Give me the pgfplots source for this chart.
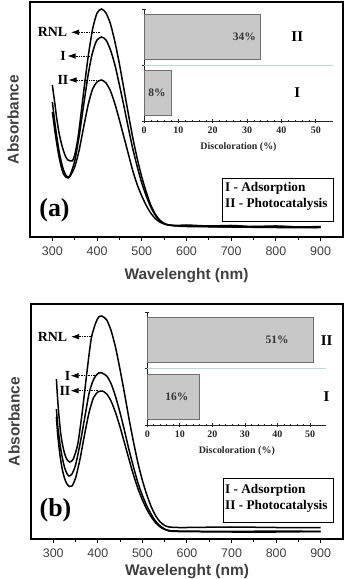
\documentclass[border=0pt]{standalone}
\usepackage{fontspec}
\setmainfont{Liberation Serif}
\newfontfamily\sansf{Liberation Sans}
\usepackage{pgfplots}
\pgfplotsset{compat=1.18}
\usetikzlibrary{arrows.meta}
\definecolor{labgray}{HTML}{404040}
\definecolor{barfill}{HTML}{C8C8C8}
\definecolor{barline}{HTML}{707070}
\definecolor{sepcol}{HTML}{B8DCDC}
\tikzset{
  pct/.style={font=\bfseries\fontsize{11.5}{11.5}\selectfont, text=black!80},
  cat/.style={font=\bfseries\fontsize{15}{15}\selectfont},
  lab/.style={font=\bfseries\fontsize{14}{14}\selectfont},
  arr/.style={densely dotted, line width=0.7bp, -{Latex[length=8bp,width=5.5bp]}},
}
\pgfplotsset{
  mainax/.style={
    scale only axis, width=313bp, height=235bp,
    xmin=250, xmax=950, ymin=0, ymax=235,
    xtick={300,400,...,900}, minor xtick={350,450,...,850},
    ytick=\empty, xtick pos=bottom,
    tick align=outside, major tick length=4bp, minor tick length=3bp,
    axis line style={line width=1.4bp},
    every tick/.style={black, line width=1bp},
    /pgf/number format/assume math mode=true,
    xticklabel style={font=\sansf\fontsize{12.5}{12.5}\selectfont, text=labgray, yshift=-2.5bp},
    xlabel={Wavelenght (nm)},
    ylabel={Absorbance},
    ylabel style={font=\sansf\bfseries\fontsize{15.5}{16}\selectfont, text=labgray,
      at={(axis description cs:-0.0543,0.5)}, anchor=center},
    clip=false,
  },
  curve/.style={black, line width=1.5bp, smooth, tension=0.4},
  inset/.style={
    scale only axis, xmin=0, xmax=55, ymin=0, ymax=2,
    axis x line=bottom, axis y line=left,
    axis line style={-, line width=0.8bp, black!85},
    xtick={0,10,...,50}, minor x tick num=4,
    ytick={0,1,2}, yticklabels={},
    tick align=center, major tick length=4bp, minor tick length=2.5bp,
    every tick/.style={black!85, line width=0.7bp},
    /pgf/number format/assume math mode=true,
    xticklabel style={font=\bfseries\fontsize{10}{10}\selectfont, text=black!85},
    xlabel={Discoloration (\%)},
    xlabel style={font=\bfseries\fontsize{10}{10}\selectfont, text=black!85,
      at={(axis description cs:0.5,-0.232)}, anchor=center},
    clip=false,
  },
  bars/.style={xbar, bar width=0.8, fill=barfill, draw=barline, line width=0.7bp},
}
\begin{document}
\begin{tikzpicture}
\useasboundingbox (0,0) rectangle (346bp,579bp);
% ---------------- panel (a) ----------------
\begin{axis}[mainax, at={(30bp,342bp)}, anchor=south west,
  xlabel style={font=\sansf\bfseries\fontsize{15.5}{16}\selectfont, text=labgray,
      at={(axis description cs:0.5,-0.162)}, anchor=center}]
\addplot[curve] coordinates {(300,152) (303,142) (306,132) (310,118) (315,104) (320,94) (325,86) (330,80) (335,77) (340,76) (345,76) (350,82) (355,93) (360,108) (370,145) (380,180) (390,208) (400,224) (410,228) (420,224) (430,213) (440,195) (450,173) (460,148) (470,123) (480,99) (490,78) (500,60) (510,45) (520,32) (530,23) (540,17) (550,13.5) (560,12) (580,11.5) (600,12) (650,11) (700,11.5) (750,10.5) (800,11) (850,10) (900,10.5)};
\addplot[curve] coordinates {(300,135) (303,124) (306,113) (310,100) (315,86) (320,75) (325,67) (330,62) (335,60) (340,62) (350,76) (360,101) (370,132) (380,162) (388,181) (395,192) (400,197) (410,200) (420,197) (430,187) (440,172) (450,152) (460,131) (470,109) (480,88) (490,70) (500,54) (510,41) (520,30) (530,22) (540,16.5) (550,13.5) (560,12) (580,11) (600,11) (650,10.5) (700,10) (800,10.5) (900,9.5)};
\addplot[curve] coordinates {(300,125) (303,115) (306,105) (310,93) (315,80) (320,70) (325,63) (330,60) (335,59) (340,61) (350,70) (360,87) (370,110) (380,132) (390,148) (400,155) (410,157) (420,154) (430,146) (440,133) (450,117) (460,100) (470,83) (480,66) (490,52) (500,41) (510,31.5) (520,24) (530,18.5) (540,15) (550,13) (560,12) (580,11) (600,10.5) (700,10) (800,9.5) (900,9.5)};
\end{axis}
\begin{axis}[inset, at={(144bp,458bp)}, anchor=south west, width=189bp, height=112bp]
\addplot[sepcol, line width=0.6bp] coordinates {(0,1) (55,1)};
\addplot[bars] coordinates {(8,0.5) (34,1.5)};
\node[pct] at (axis cs:29.2,1.5) {34\%};
\node[pct] at (axis cs:3.8,0.5) {8\%};
\node[cat] at (axis cs:44.6,1.5) {II};
\node[cat] at (axis cs:44.6,0.5) {I};
\end{axis}
% ---------------- panel (b) ----------------
\begin{axis}[mainax, at={(31bp,40bp)}, anchor=south west, width=312bp,
  xlabel style={font=\sansf\bfseries\fontsize{15.5}{16}\selectfont, text=labgray,
      at={(axis description cs:0.5,-0.140)}, anchor=center}]
\addplot[curve] coordinates {(307,160) (309,145) (312,127) (316,108) (320,96) (325,86) (330,80) (337,77) (345,80) (355,95) (365,127) (375,165) (385,200) (395,216) (402,222) (409,223) (420,219) (430,208) (440,191) (450,169) (460,145) (470,120) (480,97) (490,76) (500,58.5) (510,44) (520,32) (530,23) (540,17) (550,13.5) (560,12) (580,11.5) (600,11.5) (700,12) (800,11.5) (900,11.5)};
\addplot[curve] coordinates {(307,130) (310,113) (315,95) (320,82) (325,72) (330,66) (335,63) (342,65) (350,74) (360,95) (370,120) (380,145) (388,157) (395,163) (402,166) (409,166) (420,163) (430,155) (440,142) (450,126) (460,108) (470,89) (480,72) (490,56) (500,43.5) (510,33) (520,24.5) (530,17.5) (540,13) (550,10) (560,8.5) (580,8) (700,7.5) (800,8) (900,7.5)};
\addplot[curve] coordinates {(307,122) (310,104) (315,84) (320,70) (325,61) (330,55.5) (336,52.5) (342,53) (350,61) (360,80) (370,104) (380,126) (390,141) (400,147) (410,148) (420,145) (430,137.6) (440,126) (450,111.7) (460,95.7) (470,79.5) (480,64) (490,50.3) (500,39) (510,29.5) (520,22) (530,16) (540,12) (550,9.5) (560,8) (580,7.5) (700,7) (800,7) (900,7.5)};
\end{axis}
\begin{axis}[inset, at={(147.3bp,154bp)}, anchor=south west, width=179bp, height=113bp]
\addplot[sepcol, line width=0.6bp] coordinates {(0,1) (55,1)};
\addplot[bars] coordinates {(16,0.5) (51,1.5)};
\node[pct] at (axis cs:39.9,1.5) {51\%};
\node[pct] at (axis cs:9.1,0.5) {16\%};
\node[cat] at (axis cs:55.1,1.5) {II};
\node[cat] at (axis cs:55.1,0.5) {I};
\end{axis}
% ---------------- annotations ----------------
\node[lab] at (52.5bp,546.7bp) {RNL};
\draw[arr] (100bp,546.7bp) -- (71bp,546.7bp);
\node[lab] at (63bp,523bp) {I};
\draw[arr] (91.7bp,523bp) -- (67.5bp,523bp);
\node[lab] at (63bp,499bp) {II};
\draw[arr] (100bp,499bp) -- (68.5bp,499bp);
\node[lab] at (52.5bp,242.3bp) {RNL};
\draw[arr] (91bp,242.3bp) -- (71bp,242.3bp);
\node[lab] at (67.5bp,203.3bp) {I};
\draw[arr] (95bp,203.3bp) -- (70.5bp,203.3bp);
\node[lab] at (65bp,188.3bp) {II};
\draw[arr] (98bp,188.3bp) -- (70.5bp,188.3bp);
% panel letters
\node[font=\bfseries\fontsize{26}{26}\selectfont] at (54.5bp,369bp) {(a)};
\node[font=\bfseries\fontsize{26}{26}\selectfont] at (55.5bp,69bp) {(b)};
% legend boxes
\draw[line width=0.8bp] (222.7bp,358bp) rectangle (333bp,401bp);
\node[font=\bfseries\fontsize{13.3}{13.3}\selectfont, anchor=west, inner sep=0pt] at (225bp,390.3bp) {I - Adsorption};
\node[font=\bfseries\fontsize{13.3}{13.3}\selectfont, anchor=west, inner sep=0pt] at (225bp,374.7bp) {II - Photocatalysis};
\draw[line width=0.8bp] (223bp,57bp) rectangle (333bp,101bp);
\node[font=\bfseries\fontsize{13.3}{13.3}\selectfont, anchor=west, inner sep=0pt] at (225bp,89bp) {I - Adsorption};
\node[font=\bfseries\fontsize{13.3}{13.3}\selectfont, anchor=west, inner sep=0pt] at (225bp,73bp) {II - Photocatalysis};
\end{tikzpicture}
\end{document}
